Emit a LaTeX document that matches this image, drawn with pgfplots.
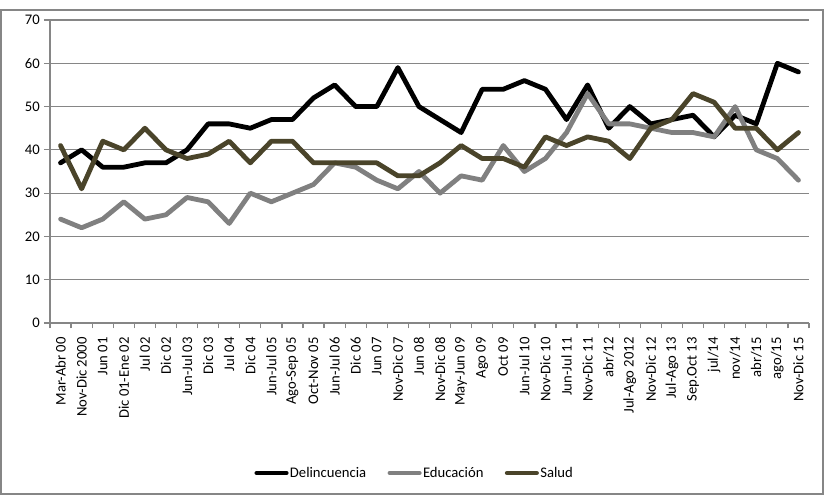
\documentclass[border=0pt]{standalone}
\usepackage{fontspec}
\setmainfont{Carlito}
\usepackage{pgfplots}
\pgfplotsset{compat=1.18}
\definecolor{gridgray}{RGB}{134,134,134}
\definecolor{edugray}{RGB}{128,128,128}
\definecolor{salud}{RGB}{74,68,42}
\begin{document}
\begin{tikzpicture}[x=0.75pt,y=0.75pt]
\path[use as bounding box] (0,0) rectangle (825,496);
\draw[gridgray, line width=0.9pt] (1,2) rectangle (823,486);
\begin{axis}[
  at={(37.5pt,129.75pt)}, anchor=south west,
  scale only axis, width=569.25pt, height=227.25pt,
  xmin=-0.5, xmax=35.5, ymin=0, ymax=70,
  font=\fontsize{11}{13}\selectfont,
  /pgf/number format/assume math mode=true,
  xtick={0,...,35},
  xticklabels={Mar-Abr 00,Nov-Dic 2000,Jun 01,Dic 01-Ene 02,Jul 02,Dic 02,Jun-Jul 03,Dic 03,Jul 04,Dic 04,Jun-Jul 05,Ago-Sep 05,Oct-Nov 05,Jun-Jul 06,Dic 06,Jun 07,Nov-Dic 07,Jun 08,Nov-Dic 08,May-Jun 09,Ago 09,Oct 09,Jun-Jul 10,Nov-Dic 10,Jun-Jul 11,Nov-Dic 11,abr/12,Jul-Ago 2012,Nov-Dic 12,Jul-Ago 13,Sep.Oct 13,jul/14,nov/14,abr/15,ago/15,Nov-Dic 15},
  xticklabel style={rotate=90, anchor=east, inner sep=1pt, xshift=-5pt},
  minor xtick={-0.5,0.5,...,35.5},
  ytick={0,10,...,70},
  yticklabel style={inner sep=1pt, xshift=-2pt},
  tick align=outside,
  xtick pos=bottom, ytick pos=left,
  x tick style={draw=none},
  minor x tick style={draw=gridgray, line width=0.9pt},
  y tick style={draw=gridgray, line width=0.9pt},
  minor tick length=4pt,
  major tick length=4.5pt,
  ymajorgrids,
  grid style={gridgray, line width=0.9pt},
  axis line style={gridgray, line width=0.9pt},
  axis x line*=bottom, axis y line*=left,
  every outer x axis line/.append style={-},
  every outer y axis line/.append style={-},
  legend columns=3,
  legend style={at={(0.48,-0.495)}, anchor=center, draw=none, fill=none,
    font=\fontsize{11}{13}\selectfont, inner sep=0pt,
    /tikz/every even column/.append style={column sep=15pt},
    nodes={inner sep=1pt}},
  legend cell align=left,
  legend image code/.code={\draw[#1] (0pt,0pt) -- (22pt,0pt);},
  every axis plot/.append style={line width=3.6pt, line join=round, line cap=round, mark=none},
]
\addplot[black] coordinates {
(0,37)(1,40)(2,36)(3,36)(4,37)(5,37)(6,40)(7,46)(8,46)(9,45)(10,47)(11,47)(12,52)(13,55)(14,50)(15,50)(16,59)(17,50)(18,47)(19,44)(20,54)(21,54)(22,56)(23,54)(24,47)(25,55)(26,45)(27,50)(28,46)(29,47)(30,48)(31,43)(32,48)(33,46)(34,60)(35,58)};
\addlegendentry{Delincuencia}
\addplot[edugray] coordinates {
(0,24)(1,22)(2,24)(3,28)(4,24)(5,25)(6,29)(7,28)(8,23)(9,30)(10,28)(11,30)(12,32)(13,37)(14,36)(15,33)(16,31)(17,35)(18,30)(19,34)(20,33)(21,41)(22,35)(23,38)(24,44)(25,53)(26,46)(27,46)(28,45)(29,44)(30,44)(31,43)(32,50)(33,40)(34,38)(35,33)};
\addlegendentry{Educación}
\addplot[salud] coordinates {
(0,41)(1,31)(2,42)(3,40)(4,45)(5,40)(6,38)(7,39)(8,42)(9,37)(10,42)(11,42)(12,37)(13,37)(14,37)(15,37)(16,34)(17,34)(18,37)(19,41)(20,38)(21,38)(22,36)(23,43)(24,41)(25,43)(26,42)(27,38)(28,45)(29,47)(30,53)(31,51)(32,45)(33,45)(34,40)(35,44)};
\addlegendentry{Salud}
\end{axis}
\end{tikzpicture}
\end{document}
